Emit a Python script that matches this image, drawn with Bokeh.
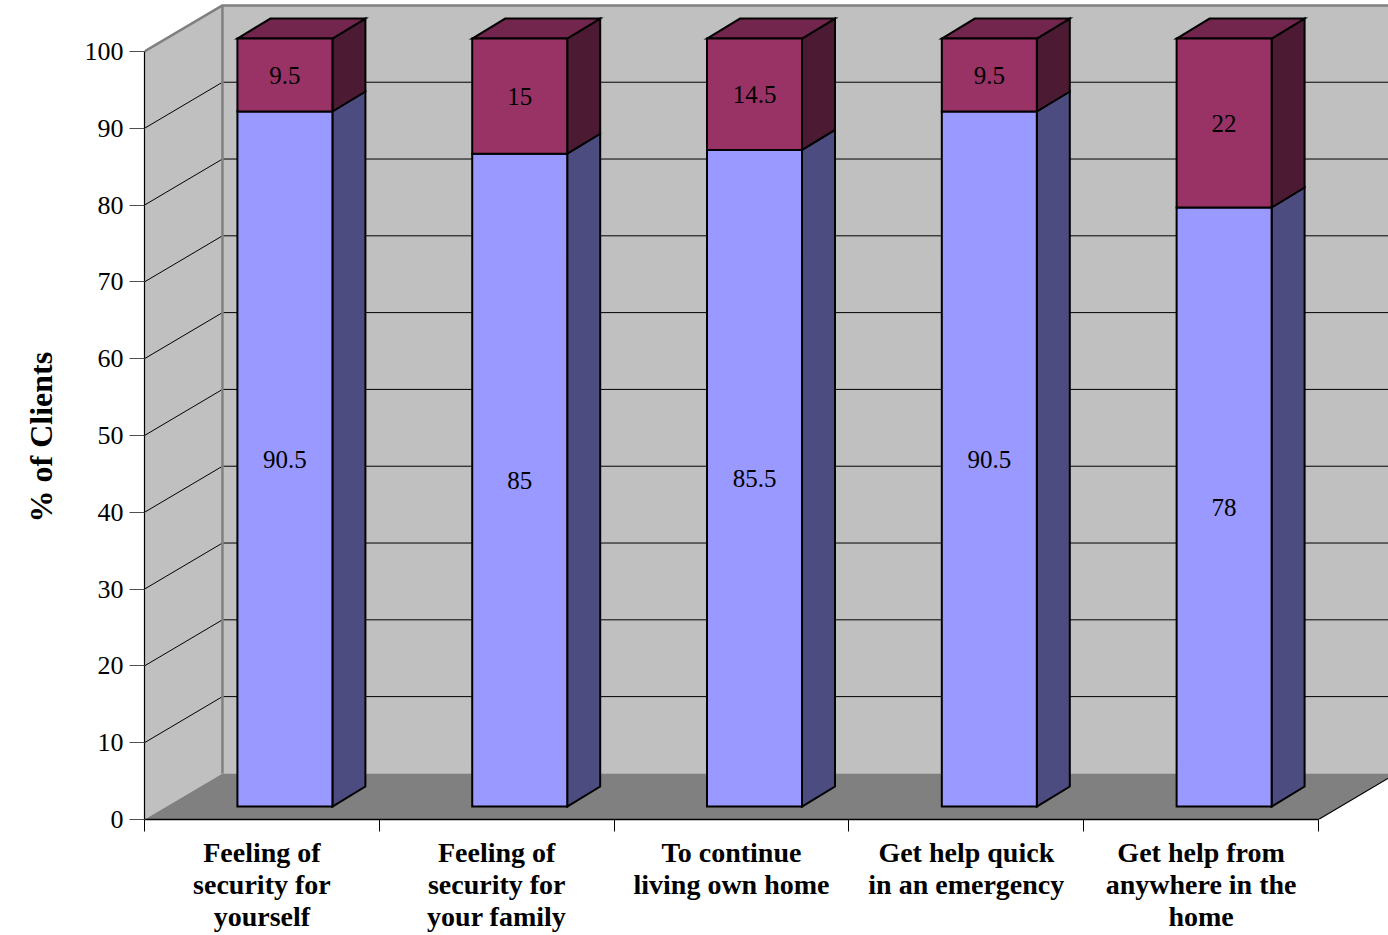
from bokeh.plotting import figure
from bokeh.models import Range1d, LinearAxis, FixedTicker, ColumnDataSource, Title
from bokeh.core.properties import value
from bokeh.embed import file_html
from bokeh.resources import INLINE

# ---------------- data ----------------
categories = [
    "Feeling of\nsecurity for\nyourself",
    "Feeling of\nsecurity for\nyour family",
    "To continue\nliving own home",
    "Get help quick\nin an emergency",
    "Get help from\nanywhere in the\nhome",
]
yes_pct = [90.5, 85, 85.5, 90.5, 78]
no_pct = [9.5, 15, 14.5, 9.5, 22]
y_ticks = [0, 10, 20, 30, 40, 50, 60, 70, 80, 90, 100]
y_label = "% of Clients"

# ---------------- geometry / style ----------------
WALL_DX, WALL_DY = 0.332, 6.0      # depth of the 3-D box (data units)
BAR_FX, BAR_FY = 0.098, 1.69       # shift of bar front faces into the box
BAR_DX, BAR_DY = 0.1405, 2.6       # depth of a bar
BAR_W = 0.4046
X_MAX = 1244 / 234.8
Y_MAX = 819 / 7.68

BLUE, BLUE_SIDE = "#9999FF", "#4C4C80"
MAROON, MAROON_SIDE, MAROON_TOP = "#993366", "#4C1A33", "#73264D"
WALL, FLOOR = "#C0C0C0", "#808080"
SERIF = "Liberation Serif"

n = len(categories)
p = figure(width=1388, height=935, output_backend="svg", toolbar_location=None,
           x_range=Range1d(0, X_MAX), y_range=Range1d(0, Y_MAX),
           x_axis_type=None, y_axis_type=None,
           min_border_left=144, min_border_right=0, min_border_top=0, min_border_bottom=116)
p.outline_line_color = None
p.xgrid.visible = False
p.ygrid.visible = False
p.background_fill_color = "white"
p.border_fill_color = "white"

# back wall
p.quad(left=[WALL_DX], right=[X_MAX + 1], bottom=[WALL_DY], top=[100 + WALL_DY],
       fill_color=WALL, line_color=None)
# left wall
p.patch([0, 0, WALL_DX, WALL_DX], [0, 100, 100 + WALL_DY, WALL_DY],
        fill_color=WALL, line_color=None)
# floor
p.patch([0, n, n + WALL_DX, WALL_DX], [0, 0, WALL_DY, WALL_DY],
        fill_color=FLOOR, line_color=None)

# gridlines
grid_vals = [v for v in y_ticks if 0 < v < 100]
p.multi_line([[WALL_DX, X_MAX + 1] for v in grid_vals],
             [[v + WALL_DY, v + WALL_DY] for v in grid_vals],
             line_color="black", line_width=1)
p.multi_line([[0, WALL_DX] for v in grid_vals],
             [[v, v + WALL_DY] for v in grid_vals],
             line_color="black", line_width=1)
# wall edges
p.line([0, WALL_DX, X_MAX + 1], [100, 100 + WALL_DY, 100 + WALL_DY],
       line_color="#808080", line_width=2.5)
p.line([WALL_DX, WALL_DX], [WALL_DY, 100 + WALL_DY], line_color="#808080", line_width=2.5)
p.line([n, n + WALL_DX], [0, WALL_DY], line_color="black", line_width=1.2)

# bars
lefts = [i + 0.5 + BAR_FX - BAR_W / 2 for i in range(n)]
rights = [l + BAR_W for l in lefts]
mids = [i + 0.5 + BAR_FX for i in range(n)]
y0 = [BAR_FY] * n
y1 = [BAR_FY + a for a in yes_pct]
y2 = [BAR_FY + a + b for a, b in zip(yes_pct, no_pct)]

outline = dict(line_color="black", line_width=2, line_join="miter")

p.patches([[r, r + BAR_DX, r + BAR_DX, r] for r in rights],
          [[a, a + BAR_DY, b + BAR_DY, b] for a, b in zip(y0, y1)],
          fill_color=BLUE_SIDE, **outline)
p.patches([[r, r + BAR_DX, r + BAR_DX, r] for r in rights],
          [[a, a + BAR_DY, b + BAR_DY, b] for a, b in zip(y1, y2)],
          fill_color=MAROON_SIDE, **outline)
p.patches([[l, l + BAR_DX, r + BAR_DX, r] for l, r in zip(lefts, rights)],
          [[t, t + BAR_DY, t + BAR_DY, t] for t in y2],
          fill_color=MAROON_TOP, **outline)
p.quad(left=lefts, right=rights, bottom=y0, top=y1, fill_color=BLUE, **outline)
p.quad(left=lefts, right=rights, bottom=y1, top=y2, fill_color=MAROON, **outline)

# data labels
lab = ColumnDataSource(dict(
    x=mids + mids,
    y=[(a + b) / 2 for a, b in zip(y0, y1)] + [(a + b) / 2 for a, b in zip(y1, y2)],
    t=[f"{v:g}" for v in yes_pct] + [f"{v:g}" for v in no_pct],
))
p.text("x", "y", text="t", source=lab, text_align="center", text_baseline="middle",
       text_font=value(SERIF), text_font_size="25px", text_color="black")

# y axis
yax = LinearAxis(ticker=FixedTicker(ticks=y_ticks), bounds=(0, 100))
yax.major_label_text_font = SERIF
yax.major_label_text_font_size = "26px"
yax.major_label_text_color = "black"
yax.major_label_standoff = 6
yax.major_tick_out = 15
yax.major_tick_in = 0
yax.minor_tick_out = 0
yax.minor_tick_in = 0
yax.major_tick_line_color = "#505050"
yax.axis_line_color = "black"
yax.axis_line_width = 1.2
p.add_layout(yax, "left")

# y axis title (vertical), starting near the bottom so it sits mid 0..100
p.add_layout(Title(text=y_label, align="left", vertical_align="top", offset=297, standoff=42,
                   text_font=SERIF, text_font_style="bold", text_font_size="32px",
                   text_color="black"), "left")

# x axis
centers = [i + 0.5 for i in range(n)]
xax = LinearAxis(ticker=FixedTicker(ticks=centers, minor_ticks=list(range(n + 1))),
                 bounds=(0, n))
xax.major_label_overrides = {c: lbl for c, lbl in zip(centers, categories)}
xax.major_label_text_font = SERIF
xax.major_label_text_font_style = "bold"
xax.major_label_text_font_size = "28px"
xax.major_label_text_color = "black"
xax.major_label_text_line_height = 1.04
xax.major_label_standoff = 5
xax.major_tick_out = 0
xax.major_tick_in = 0
xax.minor_tick_out = 12
xax.minor_tick_in = 0
xax.minor_tick_line_color = "black"
xax.axis_line_color = "black"
xax.axis_line_width = 1.5
p.add_layout(xax, "below")

open("out.html", "w").write(file_html(p, INLINE))
